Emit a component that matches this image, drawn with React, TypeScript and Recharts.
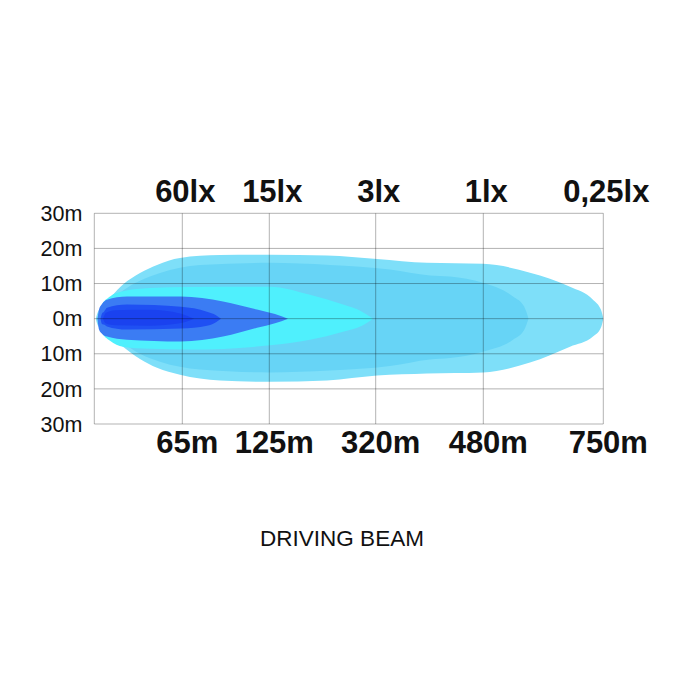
import React from "react";
import { ComposedChart, Area, XAxis, YAxis, ReferenceLine } from "recharts";

// distance axis (schematic, diagram units), tick labels
const distTicks = [88, 175, 281.4, 389, 509];
const distLabels = ["65m", "125m", "320m", "480m", "750m"];
const luxLabels = ["60lx", "15lx", "3lx", "1lx", "0,25lx"];
const widthTicks = [-30, -20, -10, 0, 10, 20, 30];

// beam outlines: x position, half width above (top) and below (bottom) the axis, metres
const lx025X = [1.5, 3.7, 8.7, 17.7, 28.7, 45.7, 62.7, 85.7, 125.7, 175.7, 232.7, 282.7, 332.7, 388.7, 435.7, 475.7, 498.7, 506.7, 509];
const lx025Top = [0, 2.0, 3.4, 6.5, 9.7, 13, 15.3, 17.3, 18.1, 18.2, 18.0, 17.0, 15.9, 15.6, 13.1, 9.1, 5.4, 2.5, 0];
const lx025Bottom = [0, 2.0, 3.2, 5.5, 8.0, 11.5, 14.0, 16.0, 17.6, 18.0, 17.6, 16.2, 15.6, 15.3, 12.5, 8.0, 5.1, 2.5, 0];

const lx1X = [2.7, 8.7, 17.7, 28.7, 45.7, 65.7, 105.7, 174.7, 235.7, 295.7, 335.7, 355.7, 388.7, 418.7, 429.7, 434.2];
const lx1Top = [0, 2.8, 5.3, 8.0, 10.8, 13.0, 15.3, 15.9, 15.3, 14.0, 12.3, 12.0, 10.2, 6.3, 3.5, 0];
const lx1Bottom = [0, 2.6, 4.8, 7.0, 10.0, 12.3, 14.5, 15.3, 14.8, 13.5, 11.6, 11.2, 9.4, 6.0, 3.3, 0];

const lx3X = [3.7, 6.7, 15.7, 28.7, 55.7, 95.7, 175.7, 215.7, 248.7, 267.7, 278.7];
const lx3Top = [0, 3.5, 6.3, 7.8, 8.7, 9.0, 9.1, 6.8, 4.0, 2.0, 0];
const lx3Bottom = [0, 3.5, 6.3, 8.0, 8.6, 8.8, 7.6, 6.0, 3.7, 2.0, 0];

const lx15X = [3.2, 4.7, 7.7, 12.7, 32.7, 86.7, 128.7, 162.7, 180.7, 193.7];
const lx15Top = [0, 2.6, 4.2, 5.4, 6.3, 6.3, 4.9, 2.6, 1.3, 0];
const lx15Bottom = [0, 3.1, 4.3, 5.1, 6.0, 6.5, 5.1, 2.6, 1.3, 0];

const lx60X = [6.2, 7.7, 9.7, 12.7, 32.7, 86.7, 112.7, 121.7, 126.7];
const lx60Top = [0, 1.5, 2.0, 3.1, 4.0, 3.4, 2.0, 1.0, 0];
const lx60Bottom = [0, 1.5, 1.7, 2.2, 3.1, 2.8, 2.0, 1.0, 0];

const coreX = [8.7, 11.7, 20.7, 55.7, 85.7, 99.7];
const coreTop = [0, 1.7, 2.4, 2.5, 1.5, 0];
const coreBottom = [0, 1.4, 1.9, 2.0, 1.3, 0];

const toRows = (xs: number[], top: number[], bottom: number[]) =>
  xs.map((x, i) => ({ x, range: [-bottom[i], top[i]] }));

const layers = [
  { key: "lx025", rows: toRows(lx025X, lx025Top, lx025Bottom), color: "#7edff9" },
  { key: "lx1", rows: toRows(lx1X, lx1Top, lx1Bottom), color: "#67d4f6" },
  { key: "lx3", rows: toRows(lx3X, lx3Top, lx3Bottom), color: "#4ff0fd" },
  { key: "lx15", rows: toRows(lx15X, lx15Top, lx15Bottom), color: "#3b7cf3" },
  { key: "lx60", rows: toRows(lx60X, lx60Top, lx60Bottom), color: "#1f50f3" },
  { key: "core", rows: toRows(coreX, coreTop, coreBottom), color: "#1a42ef" },
];

const FONT = "'Liberation Sans', Arial, sans-serif";
const gridStroke = "#000";

export default function App() {
  return (
    <div style={{ position: "relative", width: 700, height: 700, fontFamily: FONT }}>
      <ComposedChart
        width={700}
        height={700}
        margin={{ top: 165.3, right: 104.7, bottom: 244, left: 26.3 }}
      >
        <XAxis
          xAxisId="bottom"
          orientation="bottom"
          type="number"
          dataKey="x"
          domain={[0, 509]}
          ticks={distTicks}
          tickFormatter={(v: number) => distLabels[distTicks.indexOf(v)]}
          height={40}
          axisLine={false}
          tickLine={false}
          tickSize={0}
          tickMargin={7.3}
          interval={0}
          tick={{ fontSize: 31, fontWeight: 700, fill: "#111", fontFamily: FONT, dx: 5 }}
          allowDataOverflow
        />
        <XAxis
          xAxisId="top"
          orientation="top"
          type="number"
          dataKey="x"
          domain={[0, 509]}
          ticks={distTicks}
          tickFormatter={(v: number) => luxLabels[distTicks.indexOf(v)]}
          height={40}
          axisLine={false}
          tickLine={false}
          tickSize={0}
          tickMargin={11.6}
          interval={0}
          tick={{ fontSize: 31, fontWeight: 700, fill: "#111", fontFamily: FONT, dx: 3 }}
          allowDataOverflow
        />
        <YAxis
          type="number"
          domain={[-30, 30]}
          ticks={widthTicks}
          tickFormatter={(v: number) => `${Math.abs(v)}m`}
          width={60}
          axisLine={false}
          tickLine={false}
          tickSize={0}
          tickMargin={12}
          interval={0}
          tick={{ fontSize: 21.5, fill: "#111", fontFamily: FONT }}
          allowDataOverflow
        />
        {layers.map((l) => (
          <Area
            key={l.key}
            xAxisId="bottom"
            data={l.rows}
            dataKey="range"
            type="monotone"
            stroke="none"
            fill={l.color}
            fillOpacity={1}
            isAnimationActive={false}
            dot={false}
            activeDot={false}
          />
        ))}
        {[0, ...distTicks].map((t) => (
          <ReferenceLine
            key={`vx${t}`}
            xAxisId="bottom"
            x={t}
            stroke={gridStroke}
            strokeOpacity={0.3}
            strokeWidth={1}
          />
        ))}
        {widthTicks.map((t) => (
          <ReferenceLine
            key={`hy${t}`}
            xAxisId="bottom"
            y={t}
            stroke={gridStroke}
            strokeOpacity={0.3}
            strokeWidth={1}
          />
        ))}
      </ComposedChart>
      <svg
        width={700}
        height={700}
        style={{ position: "absolute", left: 0, top: 0, pointerEvents: "none" }}
      >
        <text x={334} y={537.7} textAnchor="middle" fontSize={22.5} fill="#111" fontFamily={FONT}>
          DRIVING BEAM
        </text>
      </svg>
    </div>
  );
}
